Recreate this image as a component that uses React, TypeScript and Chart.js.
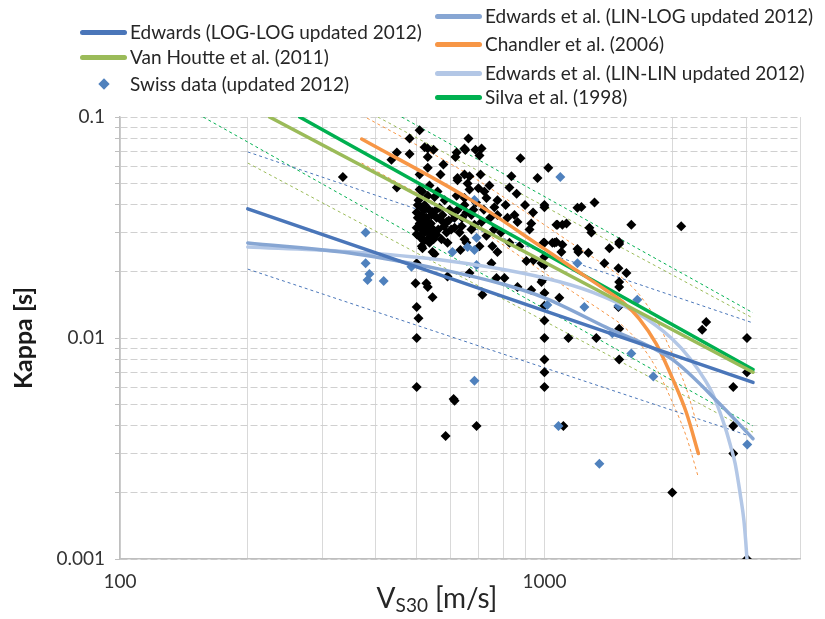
import React, { useEffect, useRef } from 'react';
import { Chart, registerables } from 'chart.js';

Chart.register(...registerables);

const FONT = 'Lato, "Open Sans", sans-serif';

// Axis ticks (log scales)
const xTickValues = [100, 200, 300, 400, 500, 600, 700, 800, 900, 1000, 2000, 3000, 4000];
const xLabelledTicks = [100, 1000];
const yTickValues = [
  0.001, 0.002, 0.003, 0.004, 0.005, 0.006, 0.007, 0.008, 0.009,
  0.01, 0.02, 0.03, 0.04, 0.05, 0.06, 0.07, 0.08, 0.09, 0.1,
];
const yLabelledTicks = [0.001, 0.01, 0.1];

// Site kappa estimates [Vs30 (m/s), kappa (s)]
const otherSites: [number, number][] = [
  [508, 0.087], [481, 0.080], [522, 0.073], [531, 0.072], [548, 0.071], [531, 0.066], [481, 0.068],
  [662, 0.080], [648, 0.072], [621, 0.069], [617, 0.066], [711, 0.072], [703, 0.067], [578, 0.061],
  [878, 0.065], [1021, 0.059], [531, 0.059], [508, 0.055], [569, 0.055], [624, 0.053], [648, 0.055],
  [666, 0.054], [707, 0.055], [836, 0.054], [963, 0.053], [449, 0.048], [536, 0.049], [531, 0.044],
  [508, 0.047], [659, 0.050], [666, 0.047], [742, 0.049], [827, 0.048], [560, 0.046], [551, 0.0435],
  [621, 0.044], [648, 0.043], [648, 0.040], [722, 0.046], [730, 0.043], [775, 0.042], [582, 0.042],
  [522, 0.040], [1000, 0.040], [500, 0.037], [503, 0.035], [508, 0.033], [514, 0.036], [527, 0.035],
  [542, 0.036], [557, 0.035], [531, 0.0335], [572, 0.034], [588, 0.0335], [607, 0.037], [614, 0.035],
  [655, 0.037], [673, 0.036], [684, 0.0325], [711, 0.0335], [762, 0.039], [775, 0.036], [818, 0.035],
  [850, 0.036], [864, 0.0335], [931, 0.033], [922, 0.031], [1073, 0.0325], [1127, 0.033], [514, 0.031],
  [522, 0.030], [508, 0.0287], [531, 0.028], [536, 0.027], [588, 0.030], [638, 0.032], [673, 0.031],
  [730, 0.029], [572, 0.028], [591, 0.027], [648, 0.028], [655, 0.027], [827, 0.027], [514, 0.026],
  [516, 0.0255], [545, 0.0245], [551, 0.024], [634, 0.025], [703, 0.026], [754, 0.026], [775, 0.0245],
  [873, 0.026], [995, 0.027], [1056, 0.027], [907, 0.0223], [942, 0.0225], [984, 0.0218], [497, 0.0177],
  [527, 0.0177], [531, 0.017], [545, 0.0153], [500, 0.0138], [505, 0.0123], [500, 0.0218], [591, 0.019],
  [714, 0.0157], [771, 0.0187], [805, 0.0187], [864, 0.017], [931, 0.0165], [984, 0.0179], [1084, 0.0152],
  [750, 0.0218], [666, 0.0197], [611, 0.0053], [500, 0.01], [500, 0.006], [585, 0.0036], [614, 0.0052],
  [692, 0.004], [1000, 0.01], [1000, 0.008], [1000, 0.007], [1000, 0.006], [1108, 0.004], [1139, 0.01],
  [1325, 0.01], [1500, 0.008], [1500, 0.011], [1000, 0.016], [1000, 0.014], [1000, 0.012], [1500, 0.0179],
  [1500, 0.017], [1560, 0.0197], [1500, 0.0272], [1500, 0.0266], [1196, 0.0388], [1222, 0.0392],
  [1312, 0.041], [1067, 0.0325], [1102, 0.0325], [1602, 0.0325], [2100, 0.032], [1276, 0.0315],
  [1290, 0.030], [1044, 0.027], [1067, 0.0272], [1102, 0.0264], [1096, 0.0245], [1196, 0.0253],
  [1202, 0.0245], [1269, 0.0243], [1422, 0.0255], [1000, 0.0233], [1000, 0.0214], [1384, 0.0218],
  [1494, 0.0207], [989, 0.0183], [1494, 0.0138], [2405, 0.0118], [2353, 0.0109], [3000, 0.01],
  [2785, 0.006], [2785, 0.004], [2785, 0.003], [2000, 0.002], [3000, 0.001], [3000, 0.007],
  [335, 0.0535], [436, 0.064], [449, 0.069], [1000, 0.039], [503, 0.040], [522, 0.038], [545, 0.0372],
  [566, 0.0388], [500, 0.0315], [542, 0.0315], [557, 0.0293], [598, 0.038], [614, 0.0315], [631, 0.030],
  [1000, 0.027], [651, 0.0709], [688, 0.071], [699, 0.0476], [624, 0.0518],
  [505, 0.042], [512, 0.039], [518, 0.034], [525, 0.032], [535, 0.038], [540, 0.033], [546, 0.030],
  [552, 0.0375], [562, 0.031], [575, 0.036], [580, 0.032], [595, 0.034], [603, 0.031], [520, 0.0275],
  [528, 0.0305], [538, 0.0295], [548, 0.028], [500, 0.0295], [515, 0.046], [625, 0.038], [640, 0.035],
  [680, 0.038], [690, 0.041], [720, 0.038], [745, 0.035], [760, 0.031], [790, 0.030], [810, 0.040],
  [860, 0.045], [900, 0.040], [940, 0.037],
];

const swissSites: [number, number][] = [
  [379, 0.030], [379, 0.0218], [387, 0.0195], [383, 0.0183], [418, 0.0181], [486, 0.021], [607, 0.0245],
  [659, 0.0258], [684, 0.025], [692, 0.0284], [692, 0.0214], [684, 0.0421], [1090, 0.0535], [1016, 0.0141],
  [1242, 0.0138], [1196, 0.0218], [1445, 0.0105], [1602, 0.0085], [1805, 0.0067], [1655, 0.0149],
  [1494, 0.014], [684, 0.0064], [1079, 0.004], [1347, 0.0027], [3005, 0.0033],
];

// Model curves [Vs30, kappa]
const edwardsLogLog: [number, number][] = [[200, 0.0384], [3100, 0.0063]];
const edwardsLogLogUpper: [number, number][] = [[200, 0.0695], [3100, 0.0117]];
const edwardsLogLogLower: [number, number][] = [[200, 0.0205], [3100, 0.00356]];
const vanHoutte: [number, number][] = [[225, 0.1], [3100, 0.0070]];
const vanHoutteUpper: [number, number][] = [[405, 0.1], [3100, 0.0123]];
const vanHoutteLower: [number, number][] = [[200, 0.0619], [3100, 0.00375]];
const silva: [number, number][] = [[265, 0.1], [3100, 0.0072]];
const silvaUpper: [number, number][] = [[461, 0.1], [3100, 0.013]];
const silvaLower: [number, number][] = [[157, 0.1], [3100, 0.0040]];
const edwardsLinLog: [number, number][] = [
  [200, 0.0269], [360, 0.024], [566, 0.0205], [800, 0.0175], [1000, 0.0152], [1394, 0.0112],
  [2000, 0.0080], [2624, 0.0049], [3100, 0.0035],
];
const edwardsLinLin: [number, number][] = [
  [200, 0.0258], [330, 0.0247], [566, 0.0226], [1000, 0.0187], [1300, 0.0161], [1673, 0.0128],
  [2000, 0.0099], [2200, 0.0081], [2396, 0.0064], [2500, 0.0055], [2681, 0.0038], [2750, 0.0032],
  [2814, 0.0027], [2900, 0.0019], [2950, 0.0015], [2980, 0.0012], [3000, 0.001],
];
const chandler: [number, number][] = [
  [371, 0.0795], [666, 0.0425], [1000, 0.0253], [1164, 0.0208], [1394, 0.0165], [1526, 0.0146],
  [1673, 0.0122], [1834, 0.0094], [2000, 0.0066], [2159, 0.0046], [2305, 0.0030],
];
const chandlerUpper: [number, number][] = [
  [371, 0.102], [666, 0.0546], [1000, 0.0325], [1164, 0.0267], [1394, 0.0212], [1526, 0.0187],
  [1673, 0.0157], [1834, 0.0121], [2000, 0.00847], [2159, 0.0059], [2305, 0.00385],
];
const chandlerLower: [number, number][] = [
  [371, 0.0619], [666, 0.0331], [1000, 0.0197], [1164, 0.0162], [1394, 0.0129], [1526, 0.0114],
  [1673, 0.0095], [1834, 0.0073], [2000, 0.00514], [2159, 0.00358], [2305, 0.00234],
];

const COLORS = {
  logLog: '#4a76b9',
  vanHoutte: '#9bbb59',
  swiss: '#4f81bd',
  linLog: '#87a6d3',
  chandler: '#f79646',
  linLin: '#b3c7e6',
  silva: '#00b050',
};

type LegendEntry = { label: string; color: string; marker: 'line' | 'diamond'; col: number; row: number };

const legendEntries: LegendEntry[] = [
  { label: 'Edwards (LOG-LOG updated 2012)', color: COLORS.logLog, marker: 'line', col: 0, row: 0 },
  { label: 'Van Houtte et al. (2011)', color: COLORS.vanHoutte, marker: 'line', col: 0, row: 1 },
  { label: 'Swiss data (updated 2012)', color: COLORS.swiss, marker: 'diamond', col: 0, row: 2 },
  { label: 'Edwards et al. (LIN-LOG updated 2012)', color: COLORS.linLog, marker: 'line', col: 1, row: 0 },
  { label: 'Chandler et al. (2006)', color: COLORS.chandler, marker: 'line', col: 1, row: 1 },
  { label: 'Edwards et al. (LIN-LIN updated 2012)', color: COLORS.linLin, marker: 'line', col: 1, row: 2 },
  { label: 'Silva et al. (1998)', color: COLORS.silva, marker: 'line', col: 1, row: 3 },
];

const legendColumnLeft = [80, 435];
const legendRowCenters = [[32, 57, 84], [16, 44, 73, 97]];

const toXY = (pts: [number, number][]) => pts.map(([x, y]) => ({ x, y }));

function curve(label: string, pts: [number, number][], color: string, width: number, smooth = false) {
  return {
    label,
    data: toXY(pts),
    showLine: true,
    borderColor: color,
    backgroundColor: color,
    borderWidth: width,
    pointRadius: 0,
    fill: false,
    cubicInterpolationMode: smooth ? 'monotone' : 'default',
    borderCapStyle: 'round',
    order: 0,
  };
}

function band(label: string, pts: [number, number][], color: string, smooth = false) {
  return {
    label,
    data: toXY(pts),
    showLine: true,
    borderColor: color,
    borderWidth: 1,
    borderDash: [3, 3],
    pointRadius: 0,
    fill: false,
    cubicInterpolationMode: smooth ? 'monotone' : 'default',
    order: 3,
  };
}

const xTitlePlugin = {
  id: 'vs30Title',
  afterDraw(chart: any) {
    const { ctx, chartArea } = chart;
    const big = `28px ${FONT}`;
    const small = `19px ${FONT}`;
    ctx.save();
    ctx.fillStyle = '#262626';
    ctx.textBaseline = 'alphabetic';
    ctx.textAlign = 'left';
    ctx.font = big;
    const wV = ctx.measureText('V').width;
    const wU = ctx.measureText(' [m/s]').width;
    ctx.font = small;
    const wS = ctx.measureText('S30').width;
    let x = (chartArea.left + chartArea.right) / 2 - 23 - (wV + wS + wU) / 2;
    const base = chartArea.bottom + 49;
    ctx.font = big;
    ctx.fillText('V', x, base);
    x += wV;
    ctx.font = small;
    ctx.fillText('S30', x, base + 4);
    x += wS;
    ctx.font = big;
    ctx.fillText(' [m/s]', x, base);
    ctx.restore();
  },
};

export default function App() {
  const canvasRef = useRef<HTMLCanvasElement | null>(null);

  useEffect(() => {
    if (!canvasRef.current) return;
    const datasets: any[] = [
      curve('Edwards (LOG-LOG updated 2012)', edwardsLogLog, COLORS.logLog, 3.5),
      curve('Van Houtte et al. (2011)', vanHoutte, COLORS.vanHoutte, 3.5),
      curve('Edwards et al. (LIN-LOG updated 2012)', edwardsLinLog, COLORS.linLog, 3.5, true),
      curve('Chandler et al. (2006)', chandler, COLORS.chandler, 3.5, true),
      curve('Edwards et al. (LIN-LIN updated 2012)', edwardsLinLin, COLORS.linLin, 3.5, true),
      curve('Silva et al. (1998)', silva, COLORS.silva, 3.5),
      {
        label: 'Swiss data (updated 2012)',
        data: toXY(swissSites),
        pointStyle: 'rectRot',
        pointRadius: 5,
        backgroundColor: COLORS.swiss,
        borderWidth: 0,
        order: 1,
      },
      {
        label: 'Sites',
        data: toXY(otherSites),
        pointStyle: 'rectRot',
        pointRadius: 5,
        backgroundColor: '#000000',
        borderWidth: 0,
        order: 2,
      },
      band('LOG-LOG +', edwardsLogLogUpper, COLORS.logLog),
      band('LOG-LOG -', edwardsLogLogLower, COLORS.logLog),
      band('Van Houtte +', vanHoutteUpper, COLORS.vanHoutte),
      band('Van Houtte -', vanHoutteLower, COLORS.vanHoutte),
      band('Silva +', silvaUpper, COLORS.silva),
      band('Silva -', silvaLower, COLORS.silva),
      band('Chandler +', chandlerUpper, COLORS.chandler, true),
      band('Chandler -', chandlerLower, COLORS.chandler, true),
    ];

    const chart = new Chart(canvasRef.current, {
      type: 'scatter',
      data: { datasets },
      options: {
        animation: false,
        responsive: false,
        devicePixelRatio: 1,
        layout: { padding: { top: 117, right: 25, left: 0, bottom: 0 } },
        plugins: { legend: { display: false }, tooltip: { enabled: false } },
        scales: {
          x: {
            type: 'logarithmic',
            min: 100,
            max: 4000,
            afterBuildTicks: (s: any) => {
              s.ticks = xTickValues.map((v) => ({ value: v }));
            },
            afterFit: (s: any) => {
              s.height = 60;
            },
            ticks: {
              autoSkip: false,
              maxRotation: 0,
              padding: 11,
              color: '#333333',
              font: { family: FONT, size: 19 },
              callback: (v: any) => (xLabelledTicks.includes(Number(v)) ? String(v) : ''),
            },
            grid: { color: '#d9d9d9', lineWidth: 1, drawTicks: false },
            border: { color: '#bfbfbf', width: 1.5 },
          },
          y: {
            type: 'logarithmic',
            min: 0.001,
            max: 0.1,
            afterBuildTicks: (s: any) => {
              s.ticks = yTickValues.map((v) => ({ value: v }));
            },
            afterFit: (s: any) => {
              s.width = 120;
            },
            ticks: {
              autoSkip: false,
              padding: 10,
              color: '#333333',
              font: { family: FONT, size: 19 },
              callback: (v: any) =>
                yLabelledTicks.some((t) => Math.abs(t - Number(v)) < 1e-9) ? String(v) : '',
            },
            grid: { color: '#d0d0d0', lineWidth: 1, tickLength: 5, tickColor: '#bfbfbf' },
            border: { color: '#bfbfbf', width: 1.5, dash: [7, 3] },
            title: {
              display: true,
              text: 'Kappa [s]',
              color: '#1a1a1a',
              font: { family: FONT, size: 25, weight: 'bold' },
              padding: { top: 9, bottom: 0 },
            },
          },
        },
      } as any,
      plugins: [xTitlePlugin],
    });
    return () => chart.destroy();
  }, []);

  return (
    <div
      style={{
        position: 'fixed',
        left: 0,
        top: 0,
        width: 825,
        height: 619,
        background: '#ffffff',
        overflow: 'hidden',
      }}
    >
      <canvas
        ref={canvasRef}
        width={825}
        height={619}
        style={{ position: 'absolute', left: 0, top: 0, width: 825, height: 619 }}
      />
      {legendEntries.map((e) => (
        <div
          key={e.label}
          style={{
            position: 'absolute',
            left: legendColumnLeft[e.col],
            top: legendRowCenters[e.col][e.row] - 12,
            height: 24,
            display: 'flex',
            alignItems: 'center',
            whiteSpace: 'nowrap',
            fontFamily: FONT,
            fontSize: 19,
            color: '#262626',
          }}
        >
          <div style={{ width: 47, height: 24, display: 'flex', alignItems: 'center', justifyContent: 'center', marginRight: 3 }}>
            {e.marker === 'line' ? (
              <div style={{ width: 47, height: 5, borderRadius: 3, background: e.color }} />
            ) : (
              <div style={{ width: 8, height: 8, transform: 'rotate(45deg)', background: e.color }} />
            )}
          </div>
          <span style={{ lineHeight: '24px' }}>{e.label}</span>
        </div>
      ))}
    </div>
  );
}
